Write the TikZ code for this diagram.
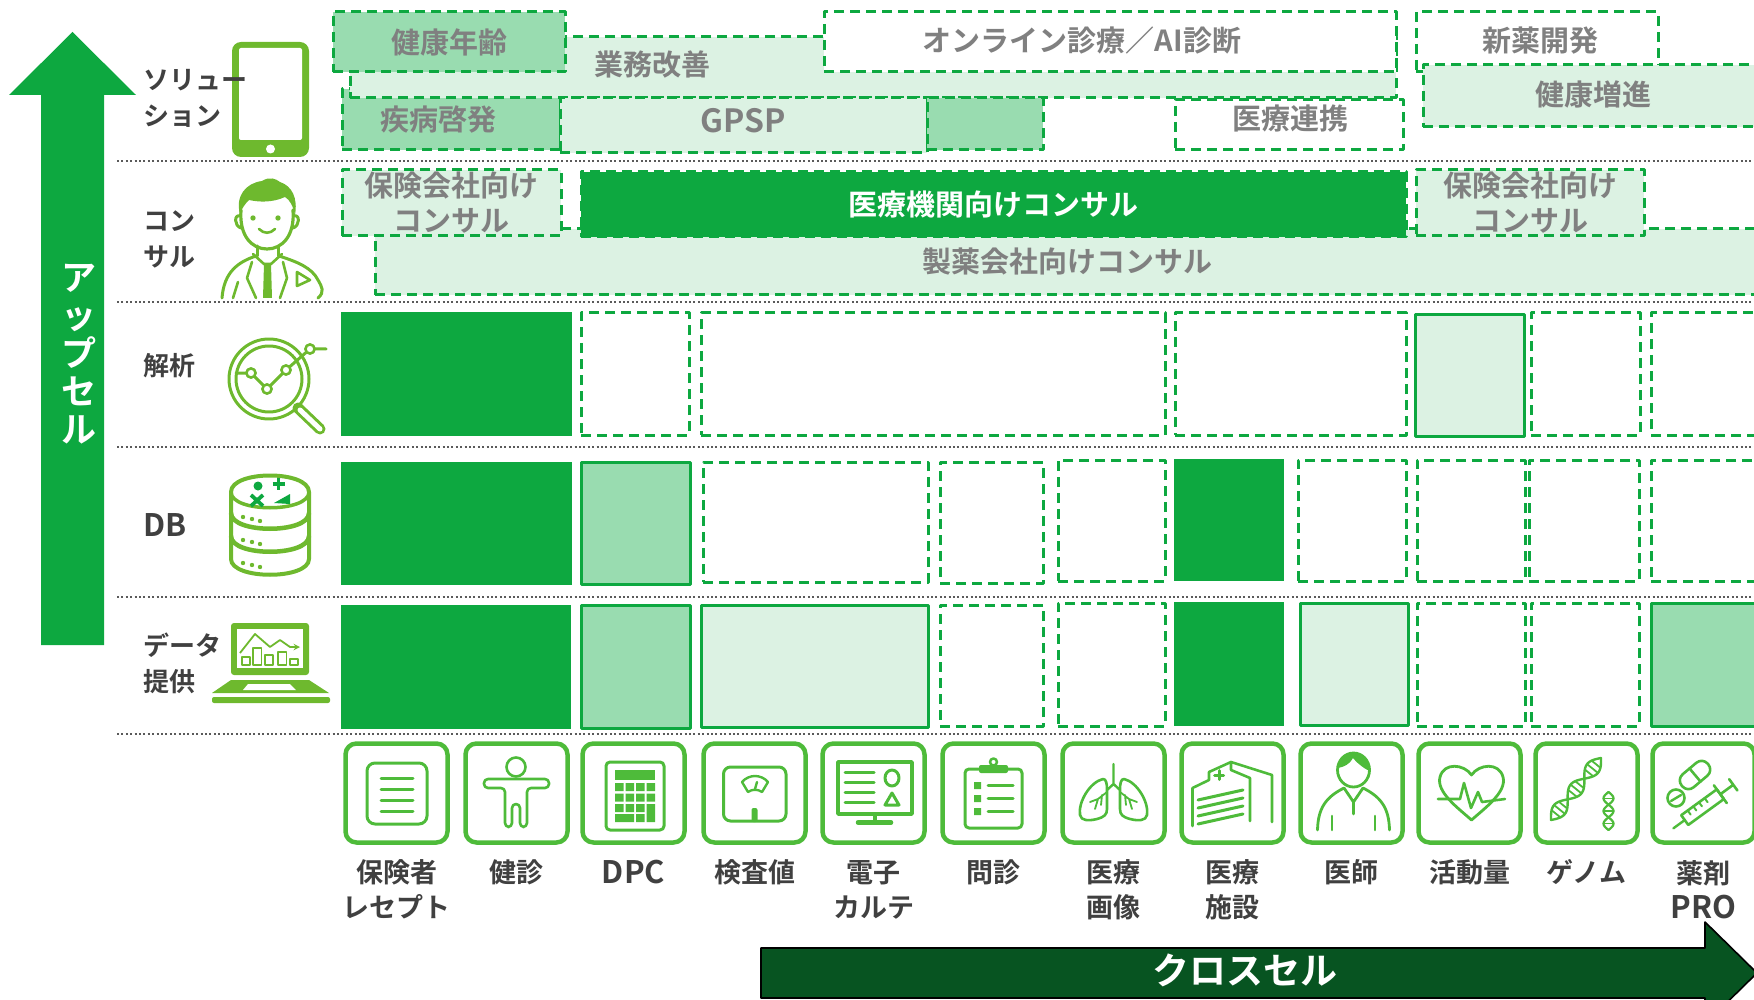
\documentclass[tikz,border=0pt]{standalone}
\usepackage{fontspec}
\setmainfont{Noto Sans CJK JP}[BoldFont={Noto Sans CJK JP Bold}]
\definecolor{dgreen}{RGB}{13,168,64}
\definecolor{mgreen}{RGB}{153,220,176}
\definecolor{lgreen}{RGB}{220,242,227}
\definecolor{igreen}{RGB}{110,185,46}
\definecolor{bgreen}{RGB}{78,187,58}
\definecolor{xgreen}{RGB}{7,84,33}
\definecolor{tgray}{RGB}{128,128,128}
\definecolor{lgray}{RGB}{64,64,64}
\definecolor{sepgray}{RGB}{90,90,90}

\begin{document}
\begin{tikzpicture}[x=1pt,y=-1pt,>=stealth,line join=round,
  every node/.style={inner sep=0pt,outer sep=0pt},
  cell/.style={anchor=north west},
  dbox/.style={cell,draw=dgreen,line width=3pt,dash pattern=on 10pt off 6pt},
  sbox/.style={cell,draw=dgreen,line width=3pt},
  full/.style={cell,fill=dgreen},
  btxt/.style={font=\fontsize{29}{35}\selectfont\bfseries,text=tgray,align=center},
  rowlab/.style={anchor=west,align=left,font=\fontsize{26}{36}\selectfont\bfseries,text=lgray},
  collab/.style={align=center,font=\fontsize{27}{35}\selectfont\bfseries,text=lgray},
  sep/.style={draw=sepgray,line width=2.2pt,dash pattern=on 2pt off 2.4pt},
  ibox/.style={draw=bgreen,line width=4.5pt,rounded corners=11pt,minimum width=102pt,minimum height=99pt},
  ico/.style={draw=bgreen,line width=3pt,line cap=round},
  rico/.style={draw=igreen,line width=3pt,line cap=round}]
  \useasboundingbox (0,0) rectangle (1754,1000);

  % row separators
  \draw[sep] (117,161) -- (1754,161);
  \draw[sep] (117,302) -- (1754,302);
  \draw[sep] (117,447) -- (1754,447);
  \draw[sep] (117,597) -- (1754,597);
  \draw[sep] (117,734) -- (1754,734);

  % upsell arrow
  \fill[dgreen] (41,645) -- (41,95) -- (9,95) -- (72.5,32) -- (136,95) -- (104,95) -- (104,645) -- cycle;
  \node[font=\fontsize{35}{38}\selectfont\bfseries,text=white,align=center] (upsell) at (79,354) {ア\\ッ\\プ\\セ\\ル};

  % cross-sell arrow
  \filldraw[fill=xgreen,draw=black,line width=1.6pt] (761,948) -- (1705,948) -- (1705,922) -- (1757,973) -- (1705,1024) -- (1705,998) -- (761,998) -- cycle;
  \node[font=\fontsize{37}{40}\selectfont\bfseries,text=white] (crosssell) at (1245,970) {クロスセル};

  % solution row
  \node[dbox,fill=mgreen,minimum width=218,minimum height=61] (shippei) at (342,89) {};
  \node[dbox,fill=lgreen,minimum width=1046,minimum height=61] (gyomu) at (350,37) {};
  \node[dbox,fill=mgreen,minimum width=232,minimum height=60,btxt] (nenrei) at (333,12) {健康年齢};
  \node[dbox,fill=white,minimum width=572,minimum height=60] (online) at (824,12) {};
  \node[dbox,fill=lgreen,minimum width=367,minimum height=55] (gpsp) at (560,98) {};
  \node[dbox,fill=mgreen,minimum width=116,minimum height=52] (gpspx) at (927,98) {};
  \node[dbox,fill=white,minimum width=228,minimum height=50] (renkei) at (1175,100) {};
  \node[dbox,fill=white,minimum width=242,minimum height=60] (shinyaku) at (1416,12) {};
  \node[dbox,fill=lgreen,minimum width=340,minimum height=62] (zoshin) at (1423,65) {};
  \node[btxt] (gyomu-t) at (652,65) {業務改善};
  \node[btxt] (online-t) at (1082,40) {オンライン診療／AI診断};
  \node[btxt] (shippei-t) at (438,119) {疾病啓発};
  \node[btxt,font=\fontsize{32}{35}\selectfont\bfseries] (gpsp-t) at (743,121) {GPSP};
  \node[btxt] (renkei-t) at (1290,119) {医療連携};
  \node[btxt] (shinyaku-t) at (1540,41) {新薬開発};
  \node[btxt] (zoshin-t) at (1593,94) {健康増進};

  % consulting row
  \node[dbox,fill=lgreen,minimum width=1385,minimum height=66,btxt] (seiyaku) at (375,229) {製薬会社向けコンサル};
  \node[dbox,fill=lgreen,minimum width=219,minimum height=66,btxt] (hoken-a) at (342,170) {保険会社向け\\コンサル};
  \node[dbox,fill=dgreen,minimum width=825,minimum height=65,btxt,text=white] (iryo) at (581,172) {医療機関向けコンサル};
  \node[dbox,fill=lgreen,minimum width=228,minimum height=66,btxt] (hoken-b) at (1416,170) {保険会社向け\\コンサル};

  % analysis row
  \node[full,minimum width=231,minimum height=124] (a1) at (341,312) {};
  \node[dbox,minimum width=108,minimum height=122] (a2) at (581,313) {};
  \node[dbox,minimum width=464,minimum height=122] (a3) at (701,313) {};
  \node[dbox,minimum width=231,minimum height=122] (a4) at (1175,313) {};
  \node[sbox,fill=lgreen,minimum width=109,minimum height=121] (a5) at (1415,315) {};
  \node[dbox,minimum width=109,minimum height=122] (a6) at (1531,313) {};
  \node[dbox,minimum width=110,minimum height=122] (a7) at (1651,313) {};

  % database row
  \node[full,minimum width=231,minimum height=123] (d1) at (341,462) {};
  \node[sbox,fill=mgreen,minimum width=109,minimum height=122] (d2) at (581,462) {};
  \node[dbox,minimum width=225,minimum height=120] (d3) at (703,462) {};
  \node[dbox,minimum width=103,minimum height=121] (d4) at (940,462) {};
  \node[dbox,minimum width=107,minimum height=121] (d5) at (1058,460) {};
  \node[full,minimum width=110,minimum height=122] (d6) at (1174,459) {};
  \node[dbox,minimum width=108,minimum height=121] (d7) at (1298,460) {};
  \node[dbox,minimum width=108,minimum height=121] (d8) at (1417,460) {};
  \node[dbox,minimum width=110,minimum height=121] (d9) at (1529,460) {};
  \node[dbox,minimum width=110,minimum height=121] (d10) at (1651,460) {};

  % data row
  \node[full,minimum width=230,minimum height=124] (p1) at (341,605) {};
  \node[sbox,fill=mgreen,minimum width=109,minimum height=123] (p2) at (581,605) {};
  \node[sbox,fill=lgreen,minimum width=227,minimum height=122] (p3) at (701,605) {};
  \node[dbox,minimum width=103,minimum height=121] (p4) at (940,605) {};
  \node[dbox,minimum width=107,minimum height=123] (p5) at (1058,603) {};
  \node[full,minimum width=110,minimum height=124] (p6) at (1174,602) {};
  \node[sbox,fill=lgreen,minimum width=108,minimum height=122] (p7) at (1300,603) {};
  \node[dbox,minimum width=108,minimum height=123] (p8) at (1417,603) {};
  \node[dbox,minimum width=108,minimum height=123] (p9) at (1531,603) {};
  \node[sbox,fill=mgreen,minimum width=110,minimum height=123] (p10) at (1651,603) {};

  % phone
  \fill[igreen,rounded corners=9pt] (232,42) rectangle (309,157);
  \fill[white,rounded corners=2pt] (239,48) rectangle (302,140);
  \fill[white] (270.5,149) circle (4.5);

  % consultant
  \fill[igreen] (240,214) .. controls (235,196) and (246,183) .. (262,181)
    .. controls (270,176) and (276,179) .. (280,182)
    .. controls (292,186) and (298,198) .. (295,215)
    .. controls (293,206) and (290,200) .. (285,197)
    .. controls (272,203) and (258,202) .. (249,200)
    .. controls (245,204) and (242,208) .. (240,214) -- cycle;
  \draw[rico,line width=3.2pt] (241,210) .. controls (239,236) and (252,249) .. (267,249) .. controls (282,249) and (295,236) .. (293,210);
  \draw[rico] (240,216) .. controls (234,214) and (234,226) .. (241,228);
  \draw[rico] (294,216) .. controls (300,214) and (300,226) .. (293,228);
  \fill[igreen] (253,218) circle (2.7);
  \fill[igreen] (278,218) circle (2.7);
  \draw[rico,line width=2.6pt] (259,229) .. controls (264,234) and (270,234) .. (275,229);
  \draw[rico] (257,246) -- (257,256) (278,246) -- (278,256);
  \draw[rico,line width=2.6pt] (253,254) -- (264,264) -- (271,264) -- (282,254);
  \fill[igreen] (264,264) -- (271,264) -- (272,298) -- (263,298) -- cycle;
  \draw[rico] (222,298) .. controls (224,272) and (238,262) .. (256,256);
  \draw[rico] (279,256) .. controls (298,262) and (312,268) .. (318,280) .. controls (322,287) and (325,292) .. (318,298);
  \draw[rico,line width=2.6pt] (252,262) -- (247,278) -- (256,298) (283,262) -- (287,278) -- (280,298) (233,298) -- (238,282);
  \draw[rico,line width=2.6pt] (297,272) -- (310,280) -- (297,286) -- cycle;

  % magnifier
  \draw[rico] (269,379) circle (40);
  \draw[rico] (269,379) circle (33);
  \draw[igreen,line width=11pt,line cap=round] (298,408) -- (320,429);
  \draw[white,line width=5pt,line cap=round] (300,410) -- (320,429);
  \draw[rico] (236,373) -- (251,373) -- (267,389) -- (286,370) -- (310,349) -- (326,349);
  \filldraw[fill=white,draw=igreen,line width=2.6pt] (251,373) circle (4.6) (267,389) circle (4.6) (286,370) circle (4.6) (310,349) circle (4.6);

  % database
  \filldraw[fill=white,draw=igreen,line width=4pt] (231,492) -- (231,559) .. controls (231,580) and (309,580) .. (309,559) -- (309,492) .. controls (309,470) and (231,470) .. (231,492) -- cycle;
  \draw[igreen,line width=3.5pt] (231,492) .. controls (231,513) and (309,513) .. (309,492);
  \draw[igreen,line width=4.5pt] (231,513) .. controls (231,534) and (309,534) .. (309,513);
  \draw[igreen,line width=4.5pt] (231,536) .. controls (231,557) and (309,557) .. (309,536);
  \fill[igreen] (243,517) circle (2.2) (252,519) circle (2.2) (260,521) circle (2.2);
  \fill[igreen] (243,540) circle (2.2) (252,542) circle (2.2) (260,544) circle (2.2);
  \fill[igreen] (243,563) circle (2.2) (252,565) circle (2.2) (260,567) circle (2.2);
  \fill[dgreen] (258,486) circle (4.5);
  \draw[dgreen,line width=3.2pt] (272.5,484) -- (284.5,484) (278.5,478) -- (278.5,490);
  \draw[dgreen,line width=3.8pt] (251,495) -- (263,506) (251,506) -- (263,495);
  \fill[dgreen] (274,503) -- (290,494) -- (290,504) -- cycle;

  % laptop
  \fill[igreen,rounded corners=3pt] (231,623) rectangle (309,675);
  \fill[white] (237,629) rectangle (303,668);
  \draw[igreen,line width=1.8pt] (242,657) rectangle (250,665) (253,648) rectangle (261.5,665) (265,655) rectangle (273,665) (278,652) rectangle (286.5,665) (290,659) rectangle (298,665);
  \draw[igreen,line width=1.8pt,->] (240,653) -- (255,634) -- (270,647) -- (280,640) -- (290,647) -- (300,647);
  \fill[igreen] (231,680) -- (309,680) -- (329,693) -- (212,693) -- cycle;
  \fill[white] (248,684) -- (290,684) -- (296,690) -- (243,690) -- cycle;
  \fill[igreen,rounded corners=2pt] (212,697) rectangle (330,703);

  % row labels
  \node[rowlab] (l-sol) at (143,98) {ソリュー\\ション};
  \node[rowlab] (l-con) at (143,239) {コン\\サル};
  \node[rowlab] (l-ana) at (143,366) {解析};
  \node[rowlab,font=\fontsize{31}{36}\selectfont\bfseries] (l-db) at (143,525) {DB};
  \node[rowlab] (l-dat) at (143,663) {データ\\提供};

  % data source boxes
  \node[ibox] (c1) at (396.5,793) {};
  \node[ibox] (c2) at (516.5,793) {};
  \node[ibox] (c3) at (633.5,793) {};
  \node[ibox] (c4) at (754.5,793) {};
  \node[ibox] (c5) at (873.5,793) {};
  \node[ibox] (c6) at (993.5,793) {};
  \node[ibox] (c7) at (1113.5,793) {};
  \node[ibox] (c8) at (1232.5,793) {};
  \node[ibox] (c9) at (1351.5,793) {};
  \node[ibox] (c10) at (1469.5,793) {};
  \node[ibox] (c11) at (1586.5,793) {};
  \node[ibox] (c12) at (1703.5,793) {};

  % receipt
  \begin{scope}[shift={(343,742)}]
    \draw[ico,rounded corners=8pt] (24,21) rectangle (84,82);
    \draw[ico] (38,36) -- (70,36) (38,47) -- (70,47) (38,58) -- (70,58) (38,69) -- (70,69);
  \end{scope}
  % body check
  \begin{scope}[shift={(463,742)}]
    \draw[ico,line width=2.6pt] (53,25) circle (9.5);
    \draw[ico,line width=2.6pt,rounded corners=4pt] (21,37) -- (86,37) -- (86,46) -- (64,46) -- (64,85) -- (57,85) -- (57,62) -- (49,62) -- (49,85) -- (42,85) -- (42,46) -- (21,46) -- cycle;
  \end{scope}
  % calculator
  \begin{scope}[shift={(580,742)}]
    \draw[ico,rounded corners=4pt] (26,20) rectangle (84,88);
    \fill[bgreen] (35,28) rectangle (75,38);
    \fill[bgreen] (35,41) rectangle (43.5,49) (45.5,41) rectangle (54,49) (56,41) rectangle (64.5,49) (66.5,41) rectangle (75,49);
    \fill[bgreen] (35,51.5) rectangle (43.5,59.5) (45.5,51.5) rectangle (54,59.5) (56,51.5) rectangle (64.5,59.5) (66.5,51.5) rectangle (75,59.5);
    \fill[bgreen] (35,62) rectangle (43.5,70) (45.5,62) rectangle (54,70) (56,62) rectangle (64.5,70) (66.5,62) rectangle (75,80);
    \fill[bgreen] (35,72) rectangle (54,80) (56,72) rectangle (64.5,80);
  \end{scope}
  % scale
  \begin{scope}[shift={(701,742)}]
    \draw[ico,rounded corners=7pt] (22.5,25) rectangle (85,79);
    \draw[ico,line width=2.4pt] (41,40) .. controls (48,32) and (60,32) .. (67,40) -- (61,50) .. controls (57,47) and (51,47) .. (47,50) -- cycle;
    \draw[ico,line width=2.4pt] (54,47) -- (56,40);
    \fill[bgreen,rounded corners=2pt] (50.5,66) rectangle (56.5,80);
  \end{scope}
  % medical record
  \begin{scope}[shift={(820,742)}]
    \draw[ico,line width=3.5pt,line cap=butt] (18,20) rectangle (92,72);
    \draw[ico] (25,30) -- (54,30) (25,40) -- (54,40) (25,50) -- (54,50) (25,60) -- (54,60);
    \draw[ico] (72,36) ellipse [x radius=7, y radius=8];
    \draw[ico] (72,51) -- (79,63) -- (65,63) -- cycle;
    \draw[ico,line width=4pt] (55,72) -- (55,80);
    \draw[ico,line width=4.5pt] (38,80.5) -- (71,80.5);
  \end{scope}
  % interview sheet
  \begin{scope}[shift={(940,742)}]
    \draw[ico,rounded corners=4pt] (25,27) rectangle (82,86);
    \fill[bgreen,rounded corners=2pt] (39,23) rectangle (68,31);
    \draw[ico,line width=2.5pt] (53.5,20) circle (3.5);
    \fill[bgreen] (34,40) rectangle (41,47) (34,53) rectangle (41,60) (34,66) rectangle (41,73);
    \draw[ico] (48,43.5) -- (73,43.5) (48,56.5) -- (73,56.5) (48,69.5) -- (73,69.5);
  \end{scope}
  % lungs
  \begin{scope}[shift={(1060,742)}]
    \draw[ico,line width=2.4pt] (53.5,22) -- (53.5,42) -- (47,48) (53.5,42) -- (60,48);
    \draw[ico,line width=2.6pt] (43,37) .. controls (30,40) and (18,60) .. (20,73) .. controls (21,79) and (29,79) .. (37,77) .. controls (44,75) and (47,73) .. (47,67) -- (47,48) .. controls (47,41) and (46,37) .. (43,37) -- cycle;
    \draw[ico,line width=2.6pt] (64,37) .. controls (77,40) and (89,60) .. (87,73) .. controls (86,79) and (78,79) .. (70,77) .. controls (63,75) and (60,73) .. (60,67) -- (60,48) .. controls (60,41) and (61,37) .. (64,37) -- cycle;
    \draw[ico,line width=1.8pt] (47,50) -- (38,57) -- (30,60) (38,57) -- (35,67) (42,53) -- (41,63);
    \draw[ico,line width=1.8pt] (60,50) -- (69,57) -- (77,60) (69,57) -- (72,67) (65,53) -- (66,63);
  \end{scope}
  % hospital
  \begin{scope}[shift={(1179,742)}]
    \draw[ico,line width=2.6pt] (13.5,84) -- (13.5,46) -- (30,38) -- (30,30) -- (52,20) -- (93,33) -- (93,80);
    \draw[ico,line width=2.6pt] (52,20) -- (52,28) -- (71,36) -- (71,79);
    \draw[ico] (19,58) -- (64,48) (19,66) -- (64,56) (19,74) -- (64,64) (19,82) -- (64,72);
    \draw[ico] (35.5,33) -- (44.5,33) (40,28.5) -- (40,37.5);
  \end{scope}
  % doctor
  \begin{scope}[shift={(1298,742)}]
    \draw[ico,line width=2.8pt] (55.5,28) ellipse [x radius=16, y radius=17];
    \fill[bgreen] (40,26) .. controls (40,14) and (48,11) .. (56,11) .. controls (66,11) and (72,18) .. (71.5,29) .. controls (65,26) and (58,20) .. (55,16) .. controls (52,22) and (46,25) .. (40,26) -- cycle;
    \draw[ico,line width=2.8pt] (19.5,88) .. controls (20,66) and (28,55) .. (46,46) -- (55.5,60) -- (65,46) .. controls (83,55) and (91,66) .. (91.5,88);
    \draw[ico,line width=2.6pt] (55.5,60) -- (55.5,72) (34,74) -- (34,88) (77,74) -- (77,88);
  \end{scope}
  % heart rate
  \begin{scope}[shift={(1416,742)}]
    \draw[ico,line width=2.8pt] (55.5,33) .. controls (48,22) and (28,20) .. (24,35) .. controls (20,50) and (42,66) .. (55.5,78) .. controls (69,66) and (91,50) .. (87,35) .. controls (83,20) and (63,22) .. (55.5,33) -- cycle;
    \draw[ico,line width=2.6pt] (22,57) -- (44,57) -- (48,41) -- (55,66) -- (62,50) -- (66,60) -- (89,57);
  \end{scope}
  % genome
  \begin{scope}[shift={(1533,742)}]
    \draw[ico,line width=2.4pt,domain=0:1,samples=40,smooth] plot ({18+50*\x+7*sin(540*\x)*0.78},{78-62*\x+7*sin(540*\x)*0.63});
    \draw[ico,line width=2.4pt,domain=0:1,samples=40,smooth] plot ({18+50*\x-7*sin(540*\x)*0.78},{78-62*\x-7*sin(540*\x)*0.63});
    \foreach \t in {0.1,0.17,0.24,0.43,0.5,0.57,0.76,0.83,0.9}
      \draw[ico,line width=1.8pt] ({18+50*\t+7*sin(540*\t)*0.78},{78-62*\t+7*sin(540*\t)*0.63}) -- ({18+50*\t-7*sin(540*\t)*0.78},{78-62*\t-7*sin(540*\t)*0.63});
    \draw[ico,line width=2.2pt,domain=0:1,samples=30,smooth] plot ({75.5+5*sin(540*\x)},{50+38*\x});
    \draw[ico,line width=2.2pt,domain=0:1,samples=30,smooth] plot ({75.5-5*sin(540*\x)},{50+38*\x});
    \foreach \t in {0.17,0.5,0.83}
      \draw[ico,line width=1.6pt] ({75.5+5*sin(540*\t)},{50+38*\t}) -- ({75.5-5*sin(540*\t)},{50+38*\t});
  \end{scope}
  % medicine
  \begin{scope}[shift={(1650,742)}]
    \begin{scope}[shift={(45,33)},rotate=40]
      \draw[ico,line width=2.6pt,rounded corners=8pt] (-17,-8.5) rectangle (17,8.5);
      \draw[ico,line width=2.6pt] (0,-8.5) -- (0,8.5);
    \end{scope}
    \draw[ico,line width=2.6pt] (26,56) circle (8.5);
    \draw[ico,line width=2.4pt] (21,59) -- (31,53);
    \begin{scope}[shift={(23.4,86.3)},rotate=36]
      \draw[ico,line width=2.4pt] (0,0) -- (14,0);
      \draw[ico,line width=2.6pt] (14,-6) rectangle (58,6);
      \draw[ico,line width=2pt] (22,-6) -- (22,-1) (29,-6) -- (29,-1) (36,-6) -- (36,-1) (43,-6) -- (43,-1);
      \draw[ico,line width=2.6pt] (58,-11) -- (58,11) (58,0) -- (74,0) (74,-7) -- (74,7);
    \end{scope}
  \end{scope}

  % data source labels
  \node[collab] (n1) at (396.5,889.5) {保険者\\レセプト};
  \node[collab] (n2) at (516.5,872) {健診};
  \node[collab,font=\fontsize{31}{35}\selectfont\bfseries] (n3) at (633.5,872) {DPC};
  \node[collab] (n4) at (754.5,872) {検査値};
  \node[collab] (n5) at (873.5,889.5) {電子\\カルテ};
  \node[collab] (n6) at (993.5,872) {問診};
  \node[collab] (n7) at (1113.5,889.5) {医療\\画像};
  \node[collab] (n8) at (1232.5,889.5) {医療\\施設};
  \node[collab] (n9) at (1351.5,872) {医師};
  \node[collab] (n10) at (1469.5,872) {活動量};
  \node[collab] (n11) at (1586.5,872) {ゲノム};
  \node[collab] (n12) at (1703.5,889.5) {薬剤\\{\fontsize{31}{35}\selectfont PRO}};
\end{tikzpicture}
\end{document}
